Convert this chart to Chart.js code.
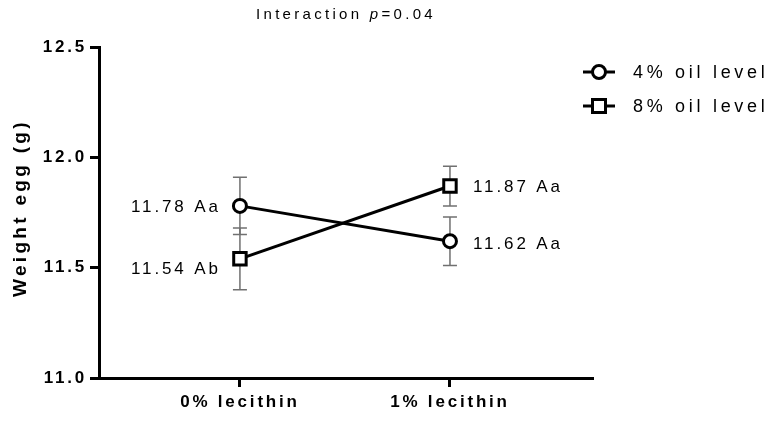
<!DOCTYPE html>
<html><head><meta charset="utf-8">
<script src="https://cdn.jsdelivr.net/npm/chart.js@4"></script>
<style>html,body{margin:0;padding:0;background:#fff}#wrap{width:770px;height:421px;position:relative}</style>
</head><body><div id="wrap"><canvas id="c" width="770" height="421"></canvas></div>
<script>
// ---- data ----
const categories = ['0% lecithin', '1% lecithin'];
const seriesNames = ['4% oil level', '8% oil level'];
const oil4 = [11.78, 11.62];
const oil4Err = [0.13, 0.11];
const oil8 = [11.54, 11.87];
const oil8Err = [0.14, 0.09];
const oil4Labels = ['11.78 Aa', '11.62 Aa'];
const oil8Labels = ['11.54 Ab', '11.87 Aa'];
const yTicks = [11.0, 11.5, 12.0, 12.5];
const titleParts = ['Interaction ', 'p', '=0.04'];
const yTitle = 'Weight egg (g)';

// ---- styles ----
const FONT = "'Liberation Sans', Arial, sans-serif";
const labelPlace = [
  [{dx: -22, dy: 1, align: 'right'}, {dx: 23, dy: 3, align: 'left'}],
  [{dx: -22, dy: 10, align: 'right'}, {dx: 23, dy: 1, align: 'left'}]
];

const errs = [oil4Err, oil8Err];
const valueLabels = [oil4Labels, oil8Labels];

const errorBars = {
  id: 'errorBars',
  beforeDatasetsDraw(chart) {
    const ctx = chart.ctx, y = chart.scales.y;
    ctx.save();
    ctx.strokeStyle = '#707070';
    ctx.lineWidth = 1.5;
    chart.data.datasets.forEach((ds, di) => {
      const meta = chart.getDatasetMeta(di);
      meta.data.forEach((pt, i) => {
        const v = ds.data[i].y, e = errs[di][i];
        const yt = y.getPixelForValue(v + e), yb = y.getPixelForValue(v - e);
        ctx.beginPath();
        ctx.moveTo(pt.x, yt); ctx.lineTo(pt.x, yb);
        ctx.moveTo(pt.x - 7, yt); ctx.lineTo(pt.x + 7, yt);
        ctx.moveTo(pt.x - 7, yb); ctx.lineTo(pt.x + 7, yb);
        ctx.stroke();
      });
    });
    ctx.restore();
  }
};

function setTickSpacing(chart) { chart.ctx.letterSpacing = '2.8px'; }

const textDecor = {
  id: 'textDecor',
  beforeUpdate: setTickSpacing,
  beforeDraw: setTickSpacing,
  afterDraw(chart) {
    const ctx = chart.ctx, ca = chart.chartArea;
    ctx.save();
    ctx.fillStyle = '#000';
    ctx.textBaseline = 'middle';
    // value labels
    ctx.font = '17px ' + FONT;
    ctx.letterSpacing = '2.9px';
    chart.data.datasets.forEach((ds, di) => {
      const meta = chart.getDatasetMeta(di);
      meta.data.forEach((pt, i) => {
        const p = labelPlace[di][i];
        ctx.textAlign = 'left';
        const txt = valueLabels[di][i];
        const w = ctx.measureText(txt).width;
        const x = p.align === 'right' ? pt.x + p.dx - w + 3 : pt.x + p.dx;
        ctx.fillText(txt, x, pt.y + p.dy);
      });
    });
    // title
    ctx.letterSpacing = '3.3px';
    ctx.textAlign = 'left';
    const fonts = ['15px ' + FONT, 'italic 15px ' + FONT, '15px ' + FONT];
    let total = 0;
    const ws = titleParts.map((t, k) => { ctx.font = fonts[k]; const w = ctx.measureText(t).width; total += w; return w; });
    let tx = (ca.left + ca.right) / 2 - total / 2;
    titleParts.forEach((t, k) => { ctx.font = fonts[k]; ctx.fillText(t, tx, 15); tx += ws[k]; });
    // y title
    ctx.save();
    ctx.font = 'bold 19px ' + FONT;
    ctx.letterSpacing = '3.3px';
    ctx.translate(21, 208);
    ctx.rotate(-Math.PI / 2);
    ctx.textAlign = 'left';
    const yw = ctx.measureText(yTitle).width;
    ctx.fillText(yTitle, -yw / 2, 0);
    ctx.restore();
    // legend
    ctx.font = '18px ' + FONT;
    ctx.letterSpacing = '3.7px';
    const rows = [72, 106];
    chart.data.datasets.forEach((ds, di) => {
      const ly = rows[di];
      ctx.strokeStyle = '#000';
      ctx.lineWidth = 3;
      ctx.beginPath(); ctx.moveTo(583, ly); ctx.lineTo(615, ly); ctx.stroke();
      ctx.fillStyle = '#fff';
      ctx.beginPath();
      if (ds.pointStyle === 'rect') { ctx.rect(599 - 6.5, ly - 6.5, 13, 13); }
      else { ctx.arc(599, ly, 6.5, 0, Math.PI * 2); }
      ctx.fill(); ctx.stroke();
      ctx.fillStyle = '#000';
      ctx.fillText(seriesNames[di], 633, ly + 1);
    });
    ctx.restore();
  }
};

const toPts = arr => arr.map((v, i) => ({x: i, y: v}));

new Chart(document.getElementById('c'), {
  type: 'line',
  data: {
    datasets: [
      {label: seriesNames[0], data: toPts(oil4), borderColor: '#000', borderWidth: 3,
       pointStyle: 'circle', pointRadius: 6.5, pointBorderWidth: 3, pointBackgroundColor: '#fff', pointBorderColor: '#000', tension: 0},
      {label: seriesNames[1], data: toPts(oil8), borderColor: '#000', borderWidth: 3,
       pointStyle: 'rect', pointRadius: 8.8, pointBorderWidth: 3, pointBackgroundColor: '#fff', pointBorderColor: '#000', tension: 0}
    ]
  },
  options: {
    responsive: false,
    devicePixelRatio: 1,
    animation: false,
    layout: {padding: {top: 47, right: 177, left: 0, bottom: 0}},
    plugins: {legend: {display: false}, title: {display: false}, tooltip: {enabled: false}},
    scales: {
      x: {
        type: 'linear', min: -0.671, max: 1.681,
        afterBuildTicks(s) { s.ticks = categories.map((c, i) => ({value: i})); },
        afterFit(s) { s.height = 43; },
        ticks: {callback: v => categories[v], color: '#000', font: {family: FONT, size: 17, weight: 'bold'}, padding: 5, maxRotation: 0, autoSkip: false},
        grid: {drawOnChartArea: false, tickLength: 9, tickWidth: 3, color: '#000'},
        border: {width: 3, color: '#000'}
      },
      y: {
        min: 11, max: 12.5,
        afterBuildTicks(s) { s.ticks = yTicks.map(v => ({value: v})); },
        afterFit(s) { s.width = 99; },
        ticks: {callback: v => v.toFixed(1), color: '#000', font: {family: FONT, size: 17, weight: 'bold'}, padding: 3},
        grid: {drawOnChartArea: false, tickLength: 9, tickWidth: 3, color: '#000'},
        border: {width: 3, color: '#000'}
      }
    }
  },
  plugins: [errorBars, textDecor]
});
</script>
</body></html>
